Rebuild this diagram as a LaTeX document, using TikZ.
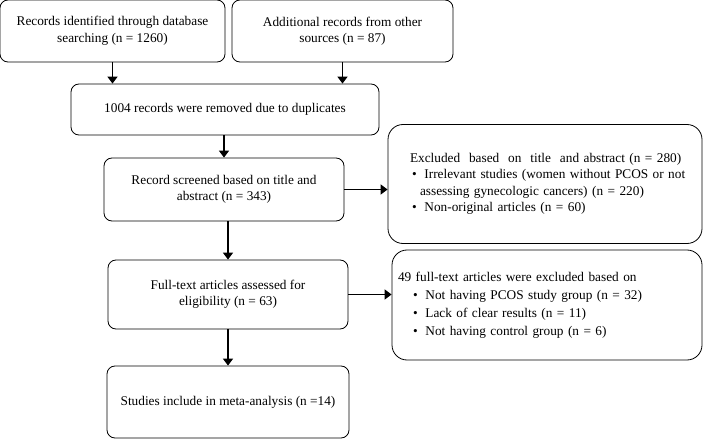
\documentclass[tikz,border=0pt]{standalone}
\usepackage{fontspec}
\setmainfont{Liberation Serif}
\usepackage{tikz}
\usetikzlibrary{arrows.meta,positioning}

% bullet line, optional left offset of the bullet
\newcommand{\bitem}[1][0pt]{\par\noindent\hangindent=\dimexpr#1+8pt\relax\hangafter=1\hspace*{#1}\makebox[8pt][l]{\textbullet}}

\begin{document}
\begin{tikzpicture}[x=1pt, y=1pt, >={Triangle[length=7pt,width=10pt]},
    box/.style={draw, rounded corners=8pt, line width=0.8pt, align=center, inner sep=0pt,
                font=\fontsize{13.3}{16.5}\selectfont},
    exbox/.style={box, rounded corners=15pt, align=left},
    flow/.style={->, line width=1.4pt}]
    \useasboundingbox (0,0) rectangle (710,-441);

    % Nodes {ident, other, dupl, screen, excl1, full, excl2, incl}
    \node [box, minimum width=225pt, minimum height=62pt]  (ident)  at (112.5,-31)  {Records identified through database\\ searching (n = 1260)};
    \node [box, minimum width=221pt, minimum height=62pt]  (other)  at (342.5,-31)  {Additional records from other\\ sources (n = 87)};
    \node [box, minimum width=308pt, minimum height=51pt]  (dupl)   at (225,-109.5) {1004 records were removed due to duplicates};
    \node [box, minimum width=240pt, minimum height=63pt]  (screen) at (224,-189.5) {Record screened based on title and\\ abstract (n = 343)};
    \node [exbox, minimum width=314pt, minimum height=119pt, text width=292pt] (excl1) at (545,-184)
        {\leftskip=11pt Excluded \ based \ on \ title \ and abstract (n = 280)
         \bitem[2pt] Irrelevant studies (women without PCOS or not\newline assessing gynecologic cancers) (n = 220)
         \bitem[2pt] Non-original articles (n = 60)\par};
    \node [box, minimum width=240pt, minimum height=69pt]  (full)   at (228,-294.5) {Full-text articles assessed for\\ eligibility (n = 63)};
    \node [exbox, minimum width=310pt, minimum height=110pt, text width=298pt,
           font=\fontsize{13.3}{18}\selectfont] (excl2) at (547,-305)
        {49 full-text articles were excluded based on
         \bitem[15pt] Not having PCOS study group (n = 32)
         \bitem[15pt] Lack of clear results (n = 11)
         \bitem[15pt] Not having control group (n = 6)};
    \node [box, minimum width=242pt, minimum height=72pt]  (incl)   at (228,-402)   {Studies include in meta-analysis (n =14)};

    % Paths
    \path [flow] (ident)  edge (ident.south |- dupl.north);
    \path [flow] (other)  edge (other.south |- dupl.north);
    \path [flow] (dupl.south -| screen.north) edge (screen);
    \path [flow] (screen) edge (screen.east -| excl1.west);
    \path [flow] (screen.south -| full.north) edge (full);
    \path [flow] (full)   edge (full.east -| excl2.west);
    \path [flow] (full)   edge (incl);

\end{tikzpicture}
\end{document}
